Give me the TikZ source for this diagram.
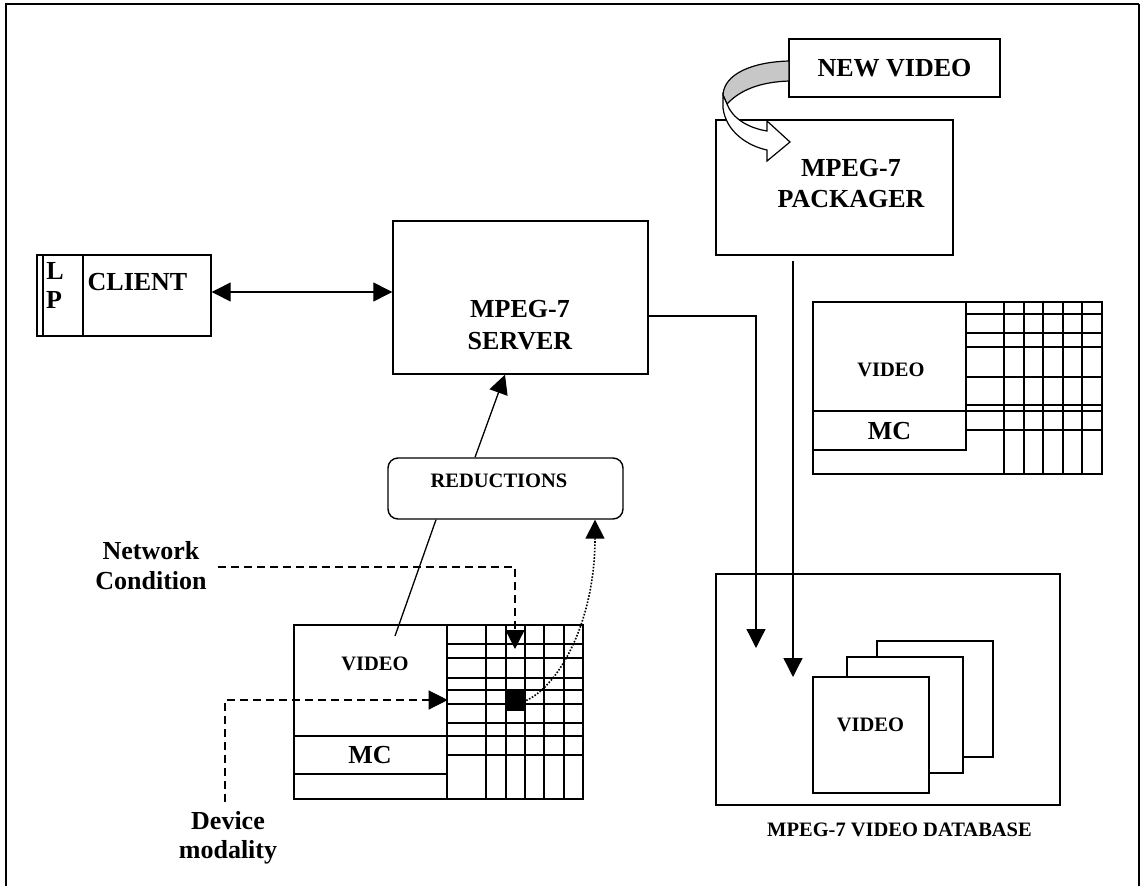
\documentclass[tikz,border=0pt]{standalone}
\usepackage{fontspec}
\setmainfont{Liberation Serif}
\usetikzlibrary{arrows.meta}
\begin{document}
\begin{tikzpicture}[x=1pt,y=-1pt,
  box/.style={draw, line width=1.4pt, rectangle, inner sep=0pt},
  big/.style={font=\fontsize{26}{31}\selectfont\bfseries, align=center, inner sep=0pt},
  small/.style={font=\fontsize{20.5}{24}\selectfont\bfseries, align=center, inner sep=0pt},
  arr/.style={line width=1.3pt, -{Triangle[length=19pt,width=19pt]}},
  darr/.style={line width=1.3pt, {Triangle[length=19pt,width=19pt]}-{Triangle[length=19pt,width=19pt]}},
  dashline/.style={dash pattern=on 8pt off 5pt},
  dotline/.style={dash pattern=on 1.6pt off 1.6pt},
  gridline/.style={line width=1.3pt}
]
\useasboundingbox (0,0) rectangle (1141,886);
% frame
\draw[line width=2pt] (1139,4) -- (6,4) -- (6,886);
\draw[line width=2pt] (1139,4) -- (1139,886);

% client
\node[box, minimum width=174pt, minimum height=81pt] (client) at (124,295.5) {};
\node[box, minimum width=40pt, minimum height=81pt] (lp) at (63,295.5) {};
\node[big] (ltext) at (55,271) {L};
\node[big] (ptext) at (54,300) {P};
\node[big] (clienttext) at (137.5,282.5) {CLIENT};

% server
\node[box, minimum width=255pt, minimum height=153pt] (server) at (520.5,297.5) {};
\node[big, font=\fontsize{26}{32}\selectfont\bfseries] (servertext) at (520,325) {MPEG-7\\SERVER};

% new video and packager
\node[box, minimum width=237pt, minimum height=135pt] (packager) at (834.5,187.5) {};
\node[big] (packtext) at (851,184) {MPEG-7\\PACKAGER};
\node[box, big, minimum width=211pt, minimum height=58pt] (newvideo) at (894.5,68) {NEW VIDEO};
% curved block arrow
\draw[line width=1.2pt, fill=black!22] (789,61) .. controls (752,62) and (724,74) .. (723,95)
  -- (727,104) .. controls (740,90) and (760,82) .. (789,81) -- cycle;
\draw[line width=1.2pt, fill=white] (723,95) -- (723,108) .. controls (726,132) and (748,146) .. (767,150)
  -- (767,161) -- (790,142) -- (767,121) -- (767,131) .. controls (748,128) and (732,118) .. (727,104) -- cycle;

% right grid
\node[box, minimum width=289pt, minimum height=172pt] (rgrid) at (957.5,388) {};
\foreach \y in {314,333,347,377,405,411,430} \draw[gridline] (966,\y) -- (1102,\y);
\foreach \x in {1004,1024,1043,1063,1082} \draw[gridline] (\x,302) -- (\x,474);
\node[box, minimum width=153pt, minimum height=109pt] (rvideo) at (889.5,356.5) {};
\node[box, minimum width=153pt, minimum height=39pt] (rmc) at (889.5,430.5) {};
\node[small] (rvideotext) at (891,369.5) {VIDEO};
\node[big] (rmctext) at (889.5,431) {MC};

% reductions
\node[box, rounded corners=10pt, minimum width=235pt, minimum height=61pt] (reductions) at (505.5,488.5) {};
\node[small] (redtext) at (499,481) {REDUCTIONS};

% left grid
\node[box, minimum width=289pt, minimum height=174pt] (lgrid) at (438.5,712) {};
\foreach \y in {644,658,678,690,704,723,736,755} \draw[gridline] (447,\y) -- (583,\y);
\foreach \x in {486,506,525,544,564} \draw[gridline] (\x,625) -- (\x,799);
\draw[gridline] (447,774) -- (447,799);
\node[box, minimum width=153pt, minimum height=111pt] (lvideo) at (370.5,680.5) {};
\node[box, minimum width=153pt, minimum height=38pt] (lmc) at (370.5,755) {};
\node[small] (lvideotext) at (375,663.5) {VIDEO};
\node[big] (lmctext) at (370,755) {MC};
\node[fill=black, inner sep=0pt, minimum size=21pt] (blk) at (515.5,700.5) {};

% labels
\node[big, font=\fontsize{26}{30}\selectfont\bfseries] (network) at (151,566) {Network\\Condition};
\node[big, font=\fontsize{26}{29}\selectfont\bfseries] (device) at (228,838) {Device\\modality};

% database
\node[box, minimum width=344pt, minimum height=231pt] (db) at (888,689.5) {};
\node[box, fill=white, minimum width=116pt, minimum height=116pt] (sheet3) at (935,699) {};
\node[box, fill=white, minimum width=116pt, minimum height=116pt] (sheet2) at (905,715) {};
\node[box, fill=white, minimum width=116pt, minimum height=116pt] (sheet1) at (871,735) {};
\node[small] (dbvideo) at (870.5,725) {VIDEO};
\node[small] (dblabel) at (899.5,830) {MPEG-7 VIDEO DATABASE};

% connectors
\coordinate (ca) at (0,292);
\draw[darr] (client.east |- ca) -- (server.west |- ca);

\coordinate (sr) at (756,316);
\coordinate (dbin1) at (756,648);
\draw[arr] (server.east |- sr) -- (sr) -- (dbin1);

\coordinate (pkb) at ([yshift=-5pt]packager.south);
\coordinate (dbin2) at (793,677);
\draw[arr] (pkb -| dbin2) -- (dbin2);

\coordinate (r1) at (475,0);
\coordinate (s1) at (505,0);
\draw[arr] (reductions.north -| r1) -- (server.south -| s1);

\coordinate (r2) at (436,0);
\coordinate (v1) at (395,636);
\draw[line width=1.3pt] (reductions.south -| r2) -- (v1);

\coordinate (d1) at (595,0);
\draw[arr, line width=1.6pt, dotline] (blk.east) .. controls (560,685) and (595,620) .. (reductions.south -| d1);

\coordinate (nc) at (218,567);
\coordinate (nce) at (515,649);
\draw[arr, dashline] (nc) -| (nce);

\coordinate (dm) at (225,802);
\coordinate (dmy) at (0,700);
\draw[arr, dashline] (dm) |- (lvideo.east |- dmy);
\end{tikzpicture}
\end{document}
